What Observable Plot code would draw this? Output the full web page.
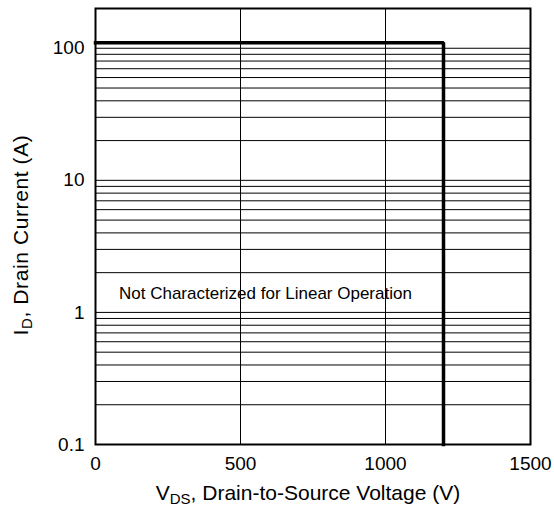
<!DOCTYPE html>
<html><head><meta charset="utf-8">
<script src="https://cdn.jsdelivr.net/npm/d3@7"></script>
<script src="https://cdn.jsdelivr.net/npm/@observablehq/plot@0.6"></script>
<style>body{margin:0;background:#fff}</style>
</head><body><div id="chart"></div>
<script>
const xTicks = [0, 500, 1000, 1500];
const yTicks = [0.1, 1, 10, 100];
const yGrid = [0.2, 0.3, 0.4, 0.5, 0.6, 0.7, 0.8, 0.9, 1, 2, 3, 4, 5, 6, 7, 8, 9, 10, 20, 30, 40, 50, 60, 70, 80, 90, 100];
const xGrid = [500, 1000];
const boundaryV = [0, 1200, 1200];
const boundaryI = [110, 110, 0.1];
const noteText = ["Not Characterized for Linear Operation"];
const noteV = [586];
const noteI = [1.4];

const boundary = boundaryV.map((v, i) => ({v, i: boundaryI[i]}));
const notes = noteText.map((t, k) => ({t, v: noteV[k], i: noteI[k]}));

const svg = Plot.plot({
  width: 554, height: 510,
  marginLeft: 95, marginRight: 24, marginTop: 8, marginBottom: 66,
  style: {fontFamily: "'Liberation Sans', Arial, sans-serif", fontSize: "19px", color: "#000", background: "#fff"},
  x: {domain: [0, 1500]},
  y: {type: "log", domain: [0.1, 200]},
  marks: [
    Plot.ruleY(yGrid, {stroke: "#000", strokeWidth: 1}),
    Plot.ruleX(xGrid, {stroke: "#000", strokeWidth: 1}),
    Plot.text(notes, {x: "v", y: "i", text: "t", fill: "#000", fontSize: 17, className: "note"}),
    Plot.line(boundary, {x: "v", y: "i", stroke: "#000", strokeWidth: 3.5, strokeLinejoin: "miter", strokeLinecap: "square"}),
    Plot.frame({stroke: "#000", strokeWidth: 2}),
    Plot.axisX({ticks: xTicks, tickSize: 0, tickPadding: 12, label: null, tickFormat: d => String(d)}),
    Plot.axisY({ticks: yTicks, tickSize: 0, tickPadding: 11, label: null, tickFormat: d => String(d)})
  ]
});
document.getElementById("chart").appendChild(svg);

// white box behind the note text
const s = d3.select(svg);
s.selectAll("g.note text").each(function() {
  const b = this.getBBox();
  const g = this.parentNode;
  d3.select(g).insert("rect", "text")
    .attr("x", b.x - 6).attr("y", b.y - 7)
    .attr("width", b.width + 12).attr("height", b.height + 12)
    .attr("fill", "#fff");
});

// axis titles with subscripts
const xl = s.append("text")
  .attr("x", 308).attr("y", 500)
  .attr("text-anchor", "middle").attr("font-size", 21).attr("fill", "#000");
xl.append("tspan").text("V");
xl.append("tspan").attr("font-size", 15).attr("dy", 4).text("DS");
xl.append("tspan").attr("dy", -4).text(", Drain-to-Source Voltage (V)");

const yl = s.append("text")
  .attr("transform", "translate(28,235) rotate(-90)")
  .attr("text-anchor", "middle").attr("font-size", 21).attr("letter-spacing", 0.6).attr("fill", "#000");
yl.append("tspan").text("I");
yl.append("tspan").attr("font-size", 15).attr("dy", 4).text("D");
yl.append("tspan").attr("dy", -4).text(", Drain Current (A)");
</script>
</body></html>
